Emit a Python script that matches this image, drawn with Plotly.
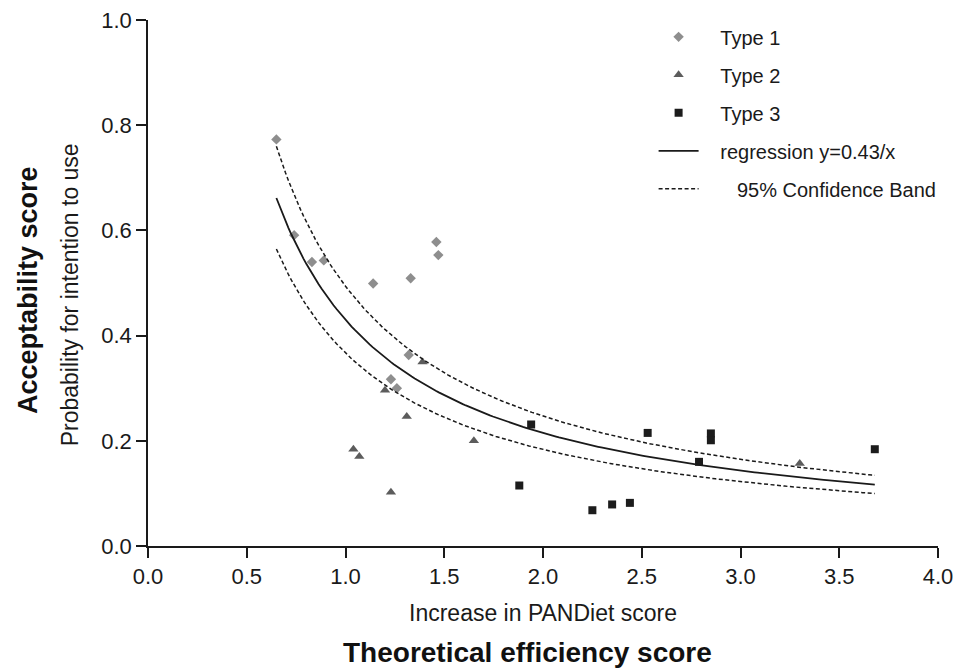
import numpy as np
import plotly.graph_objects as go

# ---- data ----
type1_x = [0.65, 0.74, 0.83, 0.89, 1.14, 1.32, 1.33, 1.23, 1.26, 1.46, 1.47]
type1_y = [0.773, 0.591, 0.540, 0.543, 0.499, 0.363, 0.509, 0.317, 0.300, 0.578, 0.553]

type2_x = [1.04, 1.07, 1.20, 1.23, 1.31, 1.39, 1.65, 3.30]
type2_y = [0.184, 0.170, 0.296, 0.102, 0.246, 0.350, 0.200, 0.157]

type3_x = [1.88, 1.94, 2.25, 2.35, 2.44, 2.53, 2.79, 2.85, 2.85, 3.68]
type3_y = [0.115, 0.231, 0.068, 0.079, 0.082, 0.215, 0.160, 0.214, 0.201, 0.184]

reg_coef = 0.43          # regression y = 0.43 / x
band_upper_coef = 0.494  # upper 95% confidence band (read)
band_lower_coef = 0.367  # lower 95% confidence band (read)
fit_x_min, fit_x_max = 0.65, 3.68

x_ticks = [0.0, 0.5, 1.0, 1.5, 2.0, 2.5, 3.0, 3.5, 4.0]
y_ticks = [0.0, 0.2, 0.4, 0.6, 0.8, 1.0]

fit_x = np.linspace(fit_x_min, fit_x_max, 200)

FONT = "Liberation Sans, Arial, sans-serif"
SP = "&nbsp;"

fig = go.Figure()
fig.add_trace(go.Scatter(x=type1_x, y=type1_y, mode="markers", name=SP * 3 + "Type 1",
                         legendgroup="g1",
                         marker=dict(symbol="diamond", size=8, color="#8e8e8e")))
fig.add_trace(go.Scatter(x=type2_x, y=type2_y, mode="markers", name=SP * 3 + "Type 2",
                         legendgroup="g2",
                         marker=dict(symbol="triangle-up", size=9, color="#5c5c5c")))
fig.add_trace(go.Scatter(x=type3_x, y=type3_y, mode="markers", name=SP * 3 + "Type 3",
                         legendgroup="g3",
                         marker=dict(symbol="square", size=8, color="#1c1c1c")))
fig.add_trace(go.Scatter(x=fit_x, y=reg_coef / fit_x, mode="lines",
                         name=SP * 3 + "regression y=0.43/x", legendgroup="g4",
                         line=dict(color="#1a1a1a", width=1.8)))
fig.add_trace(go.Scatter(x=fit_x, y=band_upper_coef / fit_x, mode="lines",
                         name=SP * 6 + "95% Confidence Band", legendgroup="g5",
                         line=dict(color="#1a1a1a", width=1.5, dash="4px,2.5px")))
fig.add_trace(go.Scatter(x=fit_x, y=band_lower_coef / fit_x, mode="lines",
                         name="95% Confidence Band", legendgroup="g5", showlegend=False,
                         line=dict(color="#1a1a1a", width=1.5, dash="4px,2.5px")))

axis_common = dict(showgrid=False, zeroline=False, showline=True, linecolor="#1a1a1a",
                   linewidth=1.6, ticks="outside", ticklen=10, tickwidth=1.6,
                   tickcolor="#1a1a1a", automargin=False, ticklabeloverflow="allow",
                   tickfont=dict(family=FONT, size=22, color="#1a1a1a"))

fig.update_xaxes(range=[0, 4], tickvals=x_ticks, ticktext=[f"{v:.1f}" for v in x_ticks],
                 **axis_common)
fig.update_yaxes(range=[0, 1], tickvals=y_ticks, ticktext=[f"{v:.1f}" for v in y_ticks],
                 **axis_common)

ann_font = dict(family=FONT, size=23, color="#1a1a1a")
fig.update_layout(
    # page has an 8px body margin, so the figure is 8px smaller than the window
    width=967, height=660,
    margin=dict(l=140, r=37, t=12, b=122, autoexpand=False),
    plot_bgcolor="white", paper_bgcolor="white",
    showlegend=True,
    legend=dict(x=0.64, y=1.005, xanchor="left", yanchor="top",
                font=dict(family=FONT, size=20, color="#1a1a1a"),
                tracegroupgap=9, itemwidth=40, bgcolor="rgba(0,0,0,0)"),
    annotations=[
        dict(text="Increase in PANDiet score", xref="paper", yref="paper",
             x=0.50, y=-0.128, xanchor="center", yanchor="middle",
             showarrow=False, font=ann_font),
        dict(text="<b>Theoretical efficiency score</b>", xref="paper", yref="paper",
             x=0.48, y=-0.202, xanchor="center", yanchor="middle",
             showarrow=False, font=dict(family=FONT, size=28, color="#111111")),
        dict(text="Probability for intention to use", xref="paper", yref="paper",
             x=-0.099, y=0.478, xanchor="center", yanchor="middle", textangle=-90,
             showarrow=False, font=ann_font),
        dict(text="<b>Acceptability score</b>", xref="paper", yref="paper",
             x=-0.151, y=0.486, xanchor="center", yanchor="middle", textangle=-90,
             showarrow=False, font=dict(family=FONT, size=27, color="#111111")),
    ],
)

fig.write_html("out.html")
